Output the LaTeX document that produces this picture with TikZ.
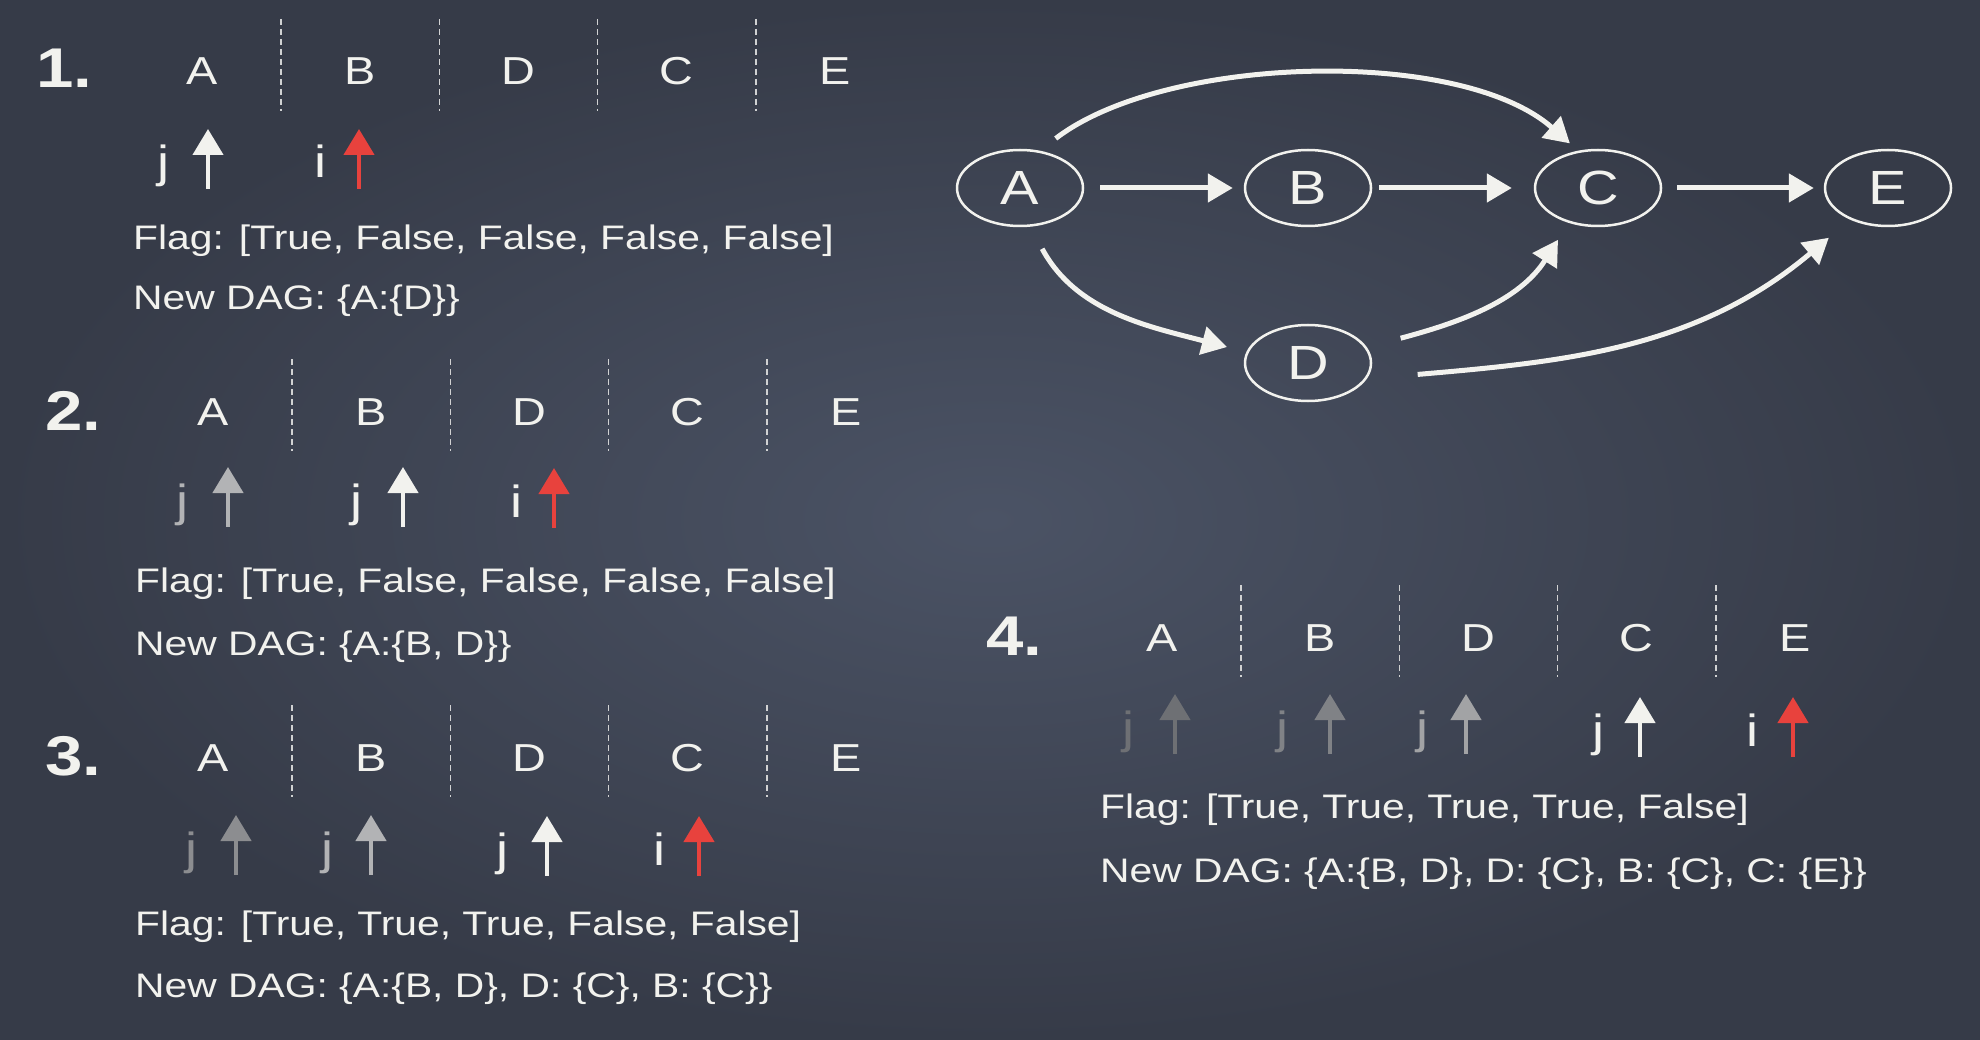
\documentclass[tikz,border=0pt]{standalone}
\usepackage{fontspec}
\setmainfont[FakeStretch=1.2]{Liberation Sans}
\usetikzlibrary{arrows.meta,shapes.geometric,calc}
\definecolor{chalk}{HTML}{F2F2EE}
\definecolor{chalkred}{HTML}{E8423D}
\definecolor{bgin}{HTML}{4B5365}
\definecolor{bgout}{HTML}{363B48}
\definecolor{bgtop}{HTML}{4A5163}
\definecolor{greyA}{HTML}{6E7074}
\definecolor{greyB}{HTML}{808286}
\definecolor{greyC}{HTML}{8C8D90}
\definecolor{greyD}{HTML}{A2A3A5}
\definecolor{greyE}{HTML}{B2B3B5}
\newcommand\colrow[3]{%
  \foreach \l [count=\k from 0] in {A,B,D,C,E} {
    \node[colletter] (#1\l) at (#2+\k*158.2,#3) {\l};
  }
  \foreach \k in {1,...,4} {
    \coordinate (#1s\k-t) at (#2+\k*158.2-79.1,#3-66);
    \coordinate (#1s\k-b) at (#2+\k*158.2-79.1,#3+26);
    \draw[sepline] (#1s\k-t) -- (#1s\k-b);
  }}
% #1 name, #2 arrow x, #3 tail y, #4 arrow colour, #5 label x, #6 label colour, #7 label
\newcommand\ptrmark[7]{%
  \coordinate (#1t) at (#2,#3);
  \coordinate (#1h) at (#2,#3-60);
  \draw[uparrow,draw=#4] (#1t) -- (#1h);
  \node[ptrlabel,text=#6] (#1l) at (#5,#3-11) {#7};}
\begin{document}
\begin{tikzpicture}[x=1pt,y=-1pt,
  colletter/.style={anchor=base,inner sep=0pt,text=chalk,font=\fontsize{39}{44}\selectfont},
  numlabel/.style={anchor=base west,inner sep=0pt,text=chalk,font=\bfseries\fontsize{56}{62}\selectfont},
  flagtxt/.style={anchor=base west,inner sep=0pt,text=chalk,font=\fontsize{34}{40}\selectfont},
  ptrlabel/.style={anchor=base,inner sep=0pt,font=\fontsize{45}{50}\selectfont},
  sepline/.style={draw=chalk!80!bgin,line width=1.6pt,dash pattern=on 6pt off 4pt},
  uparrow/.style={line width=4.5pt,-{Triangle[length=26pt,width=30pt]}},
  vert/.style={ellipse,draw=chalk,line width=2.5pt,minimum width=126pt,minimum height=76pt,inner sep=0pt,text=chalk,font=\fontsize{48}{52}\selectfont},
  edge/.style={draw=chalk,line width=5pt,-{Triangle[length=25pt,width=28pt]}}
]
\shade[inner color=bgin,outer color=bgout] (0,0) rectangle (1980,1040);
\useasboundingbox (0,0) rectangle (1980,1040);

% ---------- Panel 1
\node[numlabel] (n1) at (36,88) {1.};
\colrow{pa}{202}{85}
\ptrmark{pa1}{208}{189}{chalk}{163}{chalk}{j}
\ptrmark{pa2}{359}{189}{chalkred}{320}{chalk}{i}
\node[flagtxt] (fa) at (133,250) {Flag: [True, False, False, False, False]};
\node[flagtxt] (da) at (133,310) {New DAG: \{A:\{D\}\}};

% ---------- Panel 2
\node[numlabel] (n2) at (45,430) {2.};
\colrow{pb}{213}{425}
\ptrmark{pb1}{228}{527}{greyE}{182}{greyE}{j}
\ptrmark{pb2}{403}{527}{chalk}{356}{chalk}{j}
\ptrmark{pb3}{554}{528}{chalkred}{516}{chalk}{i}
\node[flagtxt] (fb) at (135,592) {Flag: [True, False, False, False, False]};
\node[flagtxt] (db) at (135,655) {New DAG: \{A:\{B, D\}\}};

% ---------- Panel 3
\node[numlabel] (n3) at (45,775) {3.};
\colrow{pc}{213}{771}
\ptrmark{pc1}{236}{875}{greyC}{191}{greyC}{j}
\ptrmark{pc2}{371}{875}{greyE}{327}{greyE}{j}
\ptrmark{pc3}{547}{876}{chalk}{502}{chalk}{j}
\ptrmark{pc4}{699}{876}{chalkred}{659}{chalk}{i}
\node[flagtxt] (fc) at (135,935) {Flag: [True, True, True, False, False]};
\node[flagtxt] (dc) at (135,997) {New DAG: \{A:\{B, D\}, D: \{C\}, B: \{C\}\}};

% ---------- Panel 4
\node[numlabel] (n4) at (986,655) {4.};
\colrow{pd}{1162}{651}
\ptrmark{pd1}{1175}{754}{greyA}{1128}{greyA}{j}
\ptrmark{pd2}{1330}{754}{greyB}{1282}{greyB}{j}
\ptrmark{pd3}{1466}{754}{greyD}{1422}{greyD}{j}
\ptrmark{pd4}{1640}{757}{chalk}{1598}{chalk}{j}
\ptrmark{pd5}{1793}{757}{chalkred}{1752}{chalk}{i}
\node[flagtxt] (fd) at (1100,818) {Flag: [True, True, True, True, False]};
\node[flagtxt] (dd) at (1100,882) {New DAG: \{A:\{B, D\}, D: \{C\}, B: \{C\}, C: \{E\}\}};

% ---------- DAG
\node[vert] (gA) at (1020,188) {A};
\node[vert] (gB) at (1308,188) {B};
\node[vert] (gC) at (1598,188) {C};
\node[vert] (gE) at (1888,188) {E};
\node[vert] (gD) at (1308,363) {D};

\draw[edge,shorten <=16pt,shorten >=11pt] (gA) -- (gB);
\draw[edge,shorten <=7pt,shorten >=22pt] (gB) -- (gC);
\draw[edge,shorten <=15pt,shorten >=10pt] (gC) -- (gE);
\draw[edge,shorten <=20pt,shorten >=11pt] (gA.62) .. controls ($(gA.62)+(125,-96)$) and ($(gC.118)+(-118,-104)$) .. (gC.118);
\draw[edge,shorten <=25pt,shorten >=20pt] (gA.-75) .. controls ($(gA.-75)+(46,86)$) and ($(gD.170)+(-95,-25)$) .. (gD.170);
\draw[edge,shorten <=35pt,shorten >=20pt] (gD.15) .. controls ($(gD.15)+(90,-24)$) and ($(gC.-130)+(-50,79)$) .. (gC.-130);
\draw[edge,shorten <=51pt,shorten >=28pt] (gD.-15) .. controls ($(gD.-15)+(199,-17)$) and ($(gE.-140)+(-153,129)$) .. (gE.-140);
\end{tikzpicture}
\end{document}
